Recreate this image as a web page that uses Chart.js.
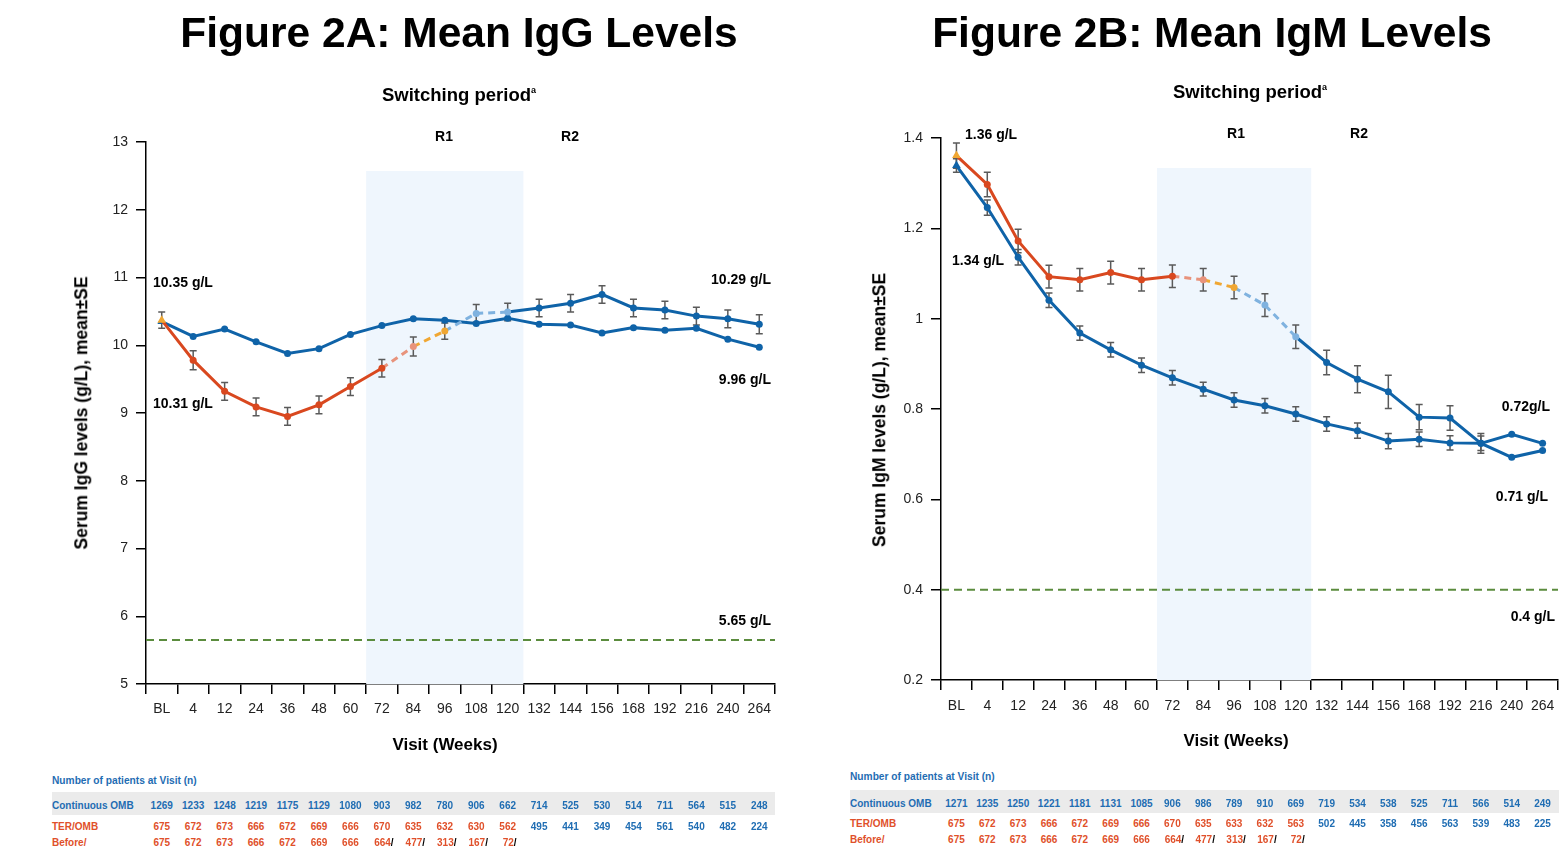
<!DOCTYPE html>
<html><head><meta charset="utf-8">
<script src="https://cdn.jsdelivr.net/npm/chart.js@4.4.1/dist/chart.umd.min.js"></script>
<style>
body{margin:0;width:1563px;height:855px;overflow:hidden;background:#fff;font-family:"Liberation Sans",Arial,sans-serif;position:relative}
canvas{position:absolute;top:0}
.t{position:absolute;white-space:nowrap;font-weight:bold;color:#000;line-height:1}
.band{position:absolute;background:#ebebeb}
</style></head><body>
<canvas id="c1" width="800" height="760" style="left:0;width:800px;height:760px"></canvas>
<canvas id="c2" width="763" height="760" style="left:800px;width:763px;height:760px"></canvas>
<div id="ov"></div>
<script>
// ---------- DATA ----------
const visits = ['BL','4','12','24','36','48','60','72','84','96','108','120','132','144','156','168','192','216','240','264'];

const iggContinuous   = [10.35,10.13,10.24,10.05,9.88,9.95,10.16,10.29,10.39,10.37,10.32,10.40,10.31,10.30,10.18,10.26,10.22,10.25,10.09,9.97];
const iggContinuousSE = [0.02,0.02,0.02,0.02,0.02,0.02,0.02,0.02,0.02,0.02,0.02,0.02,0.02,0.02,0.02,0.02,0.02,0.02,0.02,0.02];
const iggTerOmb       = [10.37,9.78,9.32,9.09,8.95,9.12,9.39,9.66,9.98,10.21,10.47,10.49,10.55,10.62,10.75,10.55,10.52,10.43,10.39,10.31];
const iggTerOmbSE     = [0.12,0.14,0.13,0.13,0.13,0.13,0.13,0.13,0.14,0.12,0.13,0.13,0.13,0.13,0.13,0.13,0.13,0.13,0.13,0.14];
const iggLLN = 5.65;

const igmContinuous   = [1.339,1.246,1.136,1.041,0.968,0.931,0.897,0.869,0.844,0.820,0.807,0.789,0.767,0.752,0.729,0.733,0.725,0.724,0.693,0.708];
const igmContinuousSE = [0.015,0.017,0.017,0.016,0.016,0.016,0.016,0.016,0.015,0.016,0.016,0.016,0.016,0.017,0.017,0.016,0.016,0.016,0.004,0.005];
const igmTerOmb       = [1.361,1.297,1.172,1.093,1.086,1.102,1.086,1.094,1.086,1.069,1.030,0.960,0.903,0.866,0.838,0.782,0.780,0.724,0.744,0.724];
const igmTerOmbSE     = [0.028,0.027,0.026,0.025,0.025,0.025,0.025,0.025,0.025,0.025,0.025,0.026,0.027,0.030,0.037,0.028,0.027,0.022,0.004,0.005];
const igmLLN = 0.4;

const nContinuousA = [1269,1233,1248,1219,1175,1129,1080,903,982,780,906,662,714,525,530,514,711,564,515,248];
const nTerOmbA     = [675,672,673,666,672,669,666,670,635,632,630,562,495,441,349,454,561,540,482,224];
const nBeforeA     = [675,672,673,666,672,669,666,664,477,313,167,72];
const nContinuousB = [1271,1235,1250,1221,1181,1131,1085,906,986,789,910,669,719,534,538,525,711,566,514,249];
const nTerOmbB     = [675,672,673,666,672,669,666,670,635,633,632,563,502,445,358,456,563,539,483,225];
const nBeforeB     = [675,672,673,666,672,669,666,664,477,313,167,72];

// ---------- STYLE ----------
const BLUE='#0f63a8', RED='#d9481f', SALMON='#e8937c', ORANGE='#f0a733', LBLUE='#7fb2df', GREY='#5a5a5a', GREEN='#5b8c3e';
const FONT='"Liberation Sans", Arial, sans-serif';

function segColor(i){ if(i<=6) return RED; if(i===7) return SALMON; if(i===8) return ORANGE; if(i<=10) return LBLUE; return BLUE; }
function segDash(i){ return (i>=7 && i<=10) ? [7,5] : undefined; }
function ptColor(i){ if(i===0) return ORANGE; if(i<=7) return RED; if(i===8) return SALMON; if(i===9) return ORANGE; if(i<=11) return LBLUE; return BLUE; }
const ptStyles = visits.map((v,i)=> i===0 ? 'triangle' : 'circle');
const ptRadius = visits.map((v,i)=> i===0 ? 5 : 3.5);

const errPlugin = {
  id:'errbars',
  beforeDatasetsDraw(chart){
    const ctx=chart.ctx, y=chart.scales.y;
    chart.data.datasets.forEach((ds,di)=>{
      if(!ds.se) return;
      const meta=chart.getDatasetMeta(di);
      ctx.save(); ctx.strokeStyle=GREY; ctx.lineWidth=1.5;
      meta.data.forEach((pt,i)=>{
        const v=ds.data[i], s=ds.se[i];
        const t=y.getPixelForValue(v+s), b=y.getPixelForValue(v-s);
        if(b-t<6) return;
        ctx.beginPath();
        ctx.moveTo(pt.x,t); ctx.lineTo(pt.x,b);
        ctx.moveTo(pt.x-3.5,t); ctx.lineTo(pt.x+3.5,t);
        ctx.moveTo(pt.x-3.5,b); ctx.lineTo(pt.x+3.5,b);
        ctx.stroke();
      });
      ctx.restore();
    });
  }
};
const bgPlugin = {
  id:'bg',
  beforeDatasetsDraw(chart,args,opts){
    const ctx=chart.ctx, x=chart.scales.x, y=chart.scales.y, a=chart.chartArea;
    const half=(x.getPixelForValue(1)-x.getPixelForValue(0))/2;
    const l=x.getPixelForValue(opts.from)-half, r=x.getPixelForValue(opts.to)+half;
    ctx.save();
    ctx.fillStyle='rgb(239,246,253)';
    ctx.fillRect(l,a.top+opts.topOff,r-l,a.bottom-a.top-opts.topOff);
    const ly=y.getPixelForValue(opts.lln);
    ctx.strokeStyle=GREEN; ctx.lineWidth=2; ctx.setLineDash([8,5]);
    ctx.beginPath(); ctx.moveTo(a.left,ly); ctx.lineTo(a.right,ly); ctx.stroke();
    ctx.restore();
  }
};

function makeChart(id, cont, contSE, ter, terSE, ymin, ymax, step, padRight, padTop, yWidth, xHeight, lln, topOff, tickFmt, xPad){
  return new Chart(document.getElementById(id), {
    type:'line',
    data:{ labels:visits, datasets:[
      { data:ter, se:terSE, borderWidth:3, tension:0,
        segment:{ borderColor:c=>segColor(c.p0DataIndex), borderDash:c=>segDash(c.p0DataIndex) },
        borderColor:RED, pointStyle:ptStyles, pointRadius:ptRadius,
        pointBackgroundColor:visits.map((v,i)=>ptColor(i)), pointBorderColor:visits.map((v,i)=>ptColor(i)), pointBorderWidth:0 },
      { data:cont, se:contSE, borderWidth:3, tension:0, borderColor:BLUE,
        pointStyle:ptStyles, pointRadius:ptRadius, pointBackgroundColor:BLUE, pointBorderColor:BLUE, pointBorderWidth:0 }
    ]},
    options:{
      responsive:false, animation:false, events:[],
      layout:{padding:{left:0,right:padRight,top:padTop,bottom:0}},
      plugins:{legend:{display:false}, tooltip:{enabled:false}, bg:{from:7,to:11,topOff:topOff,lln:lln}},
      scales:{
        x:{ type:'category', offset:true,
            grid:{offset:true, drawOnChartArea:false, tickLength:10, color:'#000', lineWidth:1.5},
            border:{color:'#000', width:1.5},
            ticks:{color:'#222', font:{size:14, family:FONT}, padding:xPad, maxRotation:0, autoSkip:false},
            afterFit:s=>{s.height=xHeight;} },
        y:{ min:ymin, max:ymax,
            grid:{drawOnChartArea:false, tickLength:10, color:'#000', lineWidth:1.5},
            border:{color:'#000', width:1.5},
            ticks:{stepSize:step, color:'#222', font:{size:14, family:FONT}, padding:8, callback:tickFmt},
            afterFit:s=>{s.width=yWidth;} }
      }
    },
    plugins:[bgPlugin, errPlugin]
  });
}

const chA = makeChart('c1', iggContinuous, iggContinuousSE, iggTerOmb, iggTerOmbSE, 5, 13, 1, 25, 142, 146, 76, iggLLN, 29, v=>String(v), 7);
const chB = makeChart('c2', igmContinuous, igmContinuousSE, igmTerOmb, igmTerOmbSE, 0.2, 1.4, 0.2, 3, 138, 141, 80, igmLLN, 30, v=>String(Math.round(v*10)/10), 8);

// ---------- OVERLAY TEXT ----------
const ov=document.getElementById('ov');
function txt(s, x, y, size, align, color, weight, rot){
  const d=document.createElement('div'); d.className='t';
  d.innerHTML=s; d.style.fontSize=size+'px'; d.style.top=(y-size*0.49)+'px';
  if(color) d.style.color=color;
  if(weight) d.style.fontWeight=weight;
  let tf='';
  if(align==='c'){ d.style.left=x+'px'; tf='translateX(-50%)'; }
  else if(align==='r'){ d.style.right=(1563-x)+'px'; }
  else d.style.left=x+'px';
  if(rot){ d.style.left=x+'px'; d.style.top=y+'px'; tf='translate(-50%,-50%) rotate(-90deg)'; }
  d.style.transform=tf;
  ov.appendChild(d); return d;
}
// Left panel
txt('Figure 2A: Mean IgG Levels',459,33,42.5,'c');
txt('Switching period<sup style="font-size:9px;vertical-align:8px">a</sup>',459,95,18.5,'c');
txt('R1',444,136,14,'c'); txt('R2',570,136,14,'c');
txt('10.35 g/L',153,282,14,'l'); txt('10.31 g/L',153,403,14,'l');
txt('10.29 g/L',771,279,14,'r'); txt('9.96 g/L',771,379,14,'r'); txt('5.65 g/L',771,620,14,'r');
txt('Serum IgG levels (g/L), mean±SE',82,413,17.5,null,null,null,true);
txt('Visit (Weeks)',445,744,17,'c');
// Right panel
txt('Figure 2B: Mean IgM Levels',1212,33,42.5,'c');
txt('Switching period<sup style="font-size:9px;vertical-align:8px">a</sup>',1250,92,18.5,'c');
txt('R1',1236,133,14,'c'); txt('R2',1359,133,14,'c');
txt('1.36 g/L',965,134,14,'l'); txt('1.34 g/L',952,260,14,'l');
txt('0.72g/L',1550,406,14,'r'); txt('0.71 g/L',1548,496,14,'r'); txt('0.4 g/L',1555,616,14,'r');
txt('Serum IgM levels (g/L), mean±SE',880,410,17.5,null,null,null,true);
txt('Visit (Weeks)',1236,740,17,'c');

// ---------- TABLES ----------
const TBLUE='#1f6db3', TRED='#e0502a';
function table(chart, offX, labelX, bandL, bandR, yHead, yBand0, yBand1, yC, yT, yB, nC, nT, nB){
  const b=document.createElement('div'); b.className='band';
  b.style.left=bandL+'px'; b.style.width=(bandR-bandL)+'px'; b.style.top=yBand0+'px'; b.style.height=(yBand1-yBand0)+'px';
  ov.appendChild(b);
  txt('Number of patients at Visit (n)',labelX,yHead,10.2,'l',TBLUE);
  txt('Continuous OMB',labelX,yC,10,'l',TBLUE);
  txt('TER/OMB',labelX,yT,10,'l',TRED);
  txt('Before/',labelX,yB,10,'l',TRED);
  const xs=chart.scales.x;
  nC.forEach((n,i)=>txt(String(n),offX+xs.getPixelForValue(i),yC,10,'c',TBLUE));
  nT.forEach((n,i)=>txt(String(n),offX+xs.getPixelForValue(i),yT,10,'c',i<=11?TRED:TBLUE));
  nB.forEach((n,i)=>txt(String(n)+(i>=7?'<span style="color:#000">/</span>':''),offX+xs.getPixelForValue(i)+(i>=7?2:0),yB,10,'c',TRED));
}
table(chA, 0, 52, 52, 775, 781, 792, 815, 806, 827, 843, nContinuousA, nTerOmbA, nBeforeA);
table(chB, 800, 850, 850, 1559, 777, 790, 813, 804, 824, 840, nContinuousB, nTerOmbB, nBeforeB);
</script>
</body></html>
